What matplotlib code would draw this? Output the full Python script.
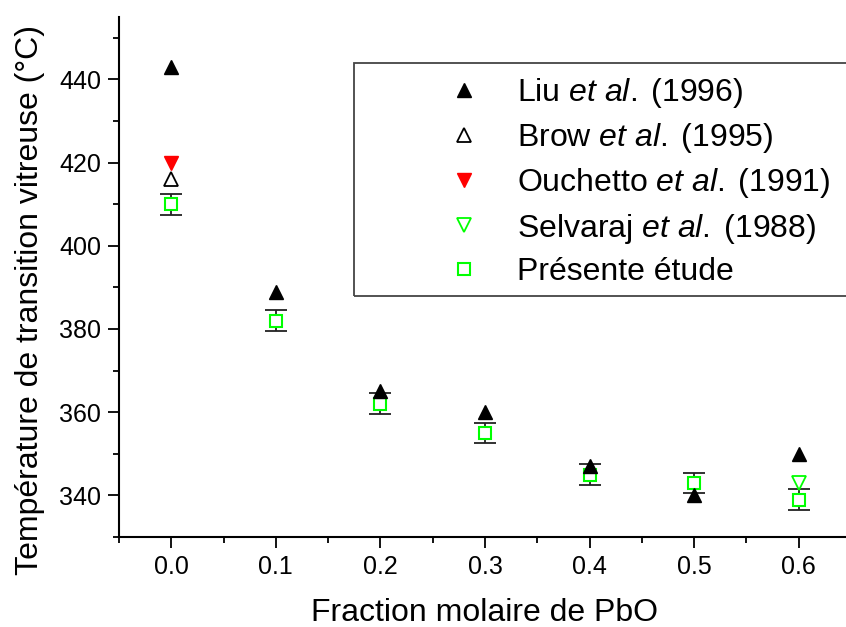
import matplotlib
matplotlib.use("Agg")
import matplotlib.pyplot as plt
from matplotlib.ticker import MultipleLocator
from matplotlib.patches import Rectangle

plt.rcParams['font.family'] = ['Liberation Sans', 'DejaVu Sans']
plt.rcParams['mathtext.fontset'] = 'custom'
plt.rcParams['mathtext.rm'] = 'Liberation Sans'
plt.rcParams['mathtext.it'] = 'Liberation Sans:italic'

# Data
x_liu = [0.0, 0.1, 0.2, 0.3, 0.4, 0.5, 0.6]
y_liu = [443, 389, 365, 360, 347, 340, 350]
x_brow = [0.0]
y_brow = [416]
x_ouch = [0.0]
y_ouch = [420]
x_selv = [0.6]
y_selv = [343]
x_pres = [0.0, 0.1, 0.2, 0.3, 0.4, 0.5, 0.6]
y_pres = [410, 382, 362, 355, 345, 343, 339]
err_pres = [2.5, 2.5, 2.5, 2.5, 2.5, 2.5, 2.5]
xticks = [0.0, 0.1, 0.2, 0.3, 0.4, 0.5, 0.6]
xtick_labels = ['0.0', '0.1', '0.2', '0.3', '0.4', '0.5', '0.6']
yticks = [340, 360, 380, 400, 420, 440]

labels = [r"Liu $\mathit{et\ al.}\;$(1996)",
          r"Brow $\mathit{et\ al.}\;$(1995)",
          r"Ouchetto $\mathit{et\ al.}\;$(1991)",
          r"Selvaraj $\mathit{et\ al.}\;$(1988)",
          "Présente étude"]

W, H = 846, 627
fig = plt.figure(figsize=(W/100, H/100), dpi=100)
left = 119 / W
bottom = 1 - 537 / H
top = 1 - 17 / H
right = 851 / W
ax = fig.add_axes([left, bottom, right - left, top - bottom])

green = '#00FF00'
ax.errorbar(x_pres, y_pres, yerr=err_pres, fmt='none', ecolor='#222222',
            elinewidth=1.3, capsize=8, capthick=1.3, zorder=1)
h1, = ax.plot(x_liu, y_liu, '^', color='black', markersize=10, linestyle='none', zorder=3)
h2, = ax.plot(x_brow, y_brow, '^', markerfacecolor='white', markeredgecolor='black',
              markeredgewidth=1.3, markersize=10, linestyle='none', zorder=3)
h3, = ax.plot(x_ouch, y_ouch, 'v', color='#FF0000', markersize=10, linestyle='none', zorder=3)
h4, = ax.plot(x_selv, y_selv, 'v', markerfacecolor='white', markeredgecolor=green,
              markeredgewidth=1.3, markersize=10, linestyle='none', zorder=3)
h5, = ax.plot(x_pres, y_pres, 's', markerfacecolor='white', markeredgecolor=green,
              markeredgewidth=1.5, markersize=8.5, linestyle='none', zorder=2)

ax.set_xlim(-0.05, 0.65)
ax.set_ylim(330, 455)
ax.xaxis.set_minor_locator(MultipleLocator(0.05))
ax.yaxis.set_minor_locator(MultipleLocator(10))
ax.set_xticks(xticks)
ax.set_xticklabels(xtick_labels)
ax.set_yticks(yticks)

for s in ['top', 'right']:
    ax.spines[s].set_visible(False)
for s in ['left', 'bottom']:
    ax.spines[s].set_linewidth(1.5)

ax.tick_params(which='major', direction='out', length=8, width=1.3, labelsize=18, pad=5)
ax.tick_params(which='minor', direction='out', length=4, width=1.3)

ax.set_xlabel('Fraction molaire de PbO', fontsize=23)
ax.set_ylabel('Température de transition vitreuse (°C)', fontsize=23)
ax.xaxis.set_label_coords((484 - 119) / 732, (537 - 613) / 520)
ax.yaxis.set_label_coords((30 - 119) / 732, (537 - 300) / 520)
ax.xaxis.label.set_va('center')
ax.yaxis.label.set_va('center')
ax.yaxis.label.set_ha('center')

leg = fig.legend([h1, h2, h3, h4, h5], labels, loc='upper left',
                 bbox_to_anchor=(440 / W, 1 - 76 / H), fontsize=23,
                 markerscale=1.0, frameon=False, handletextpad=0.9,
                 labelspacing=0.35, borderpad=0, handlelength=1.5,
                 borderaxespad=0)
fig.patches.append(Rectangle((354 / W, 1 - 296 / H), (880 - 354) / W, (296 - 63) / H,
                             transform=fig.transFigure, fill=False,
                             edgecolor='#444444', linewidth=1.3))

fig.savefig('out.png', dpi=100)
